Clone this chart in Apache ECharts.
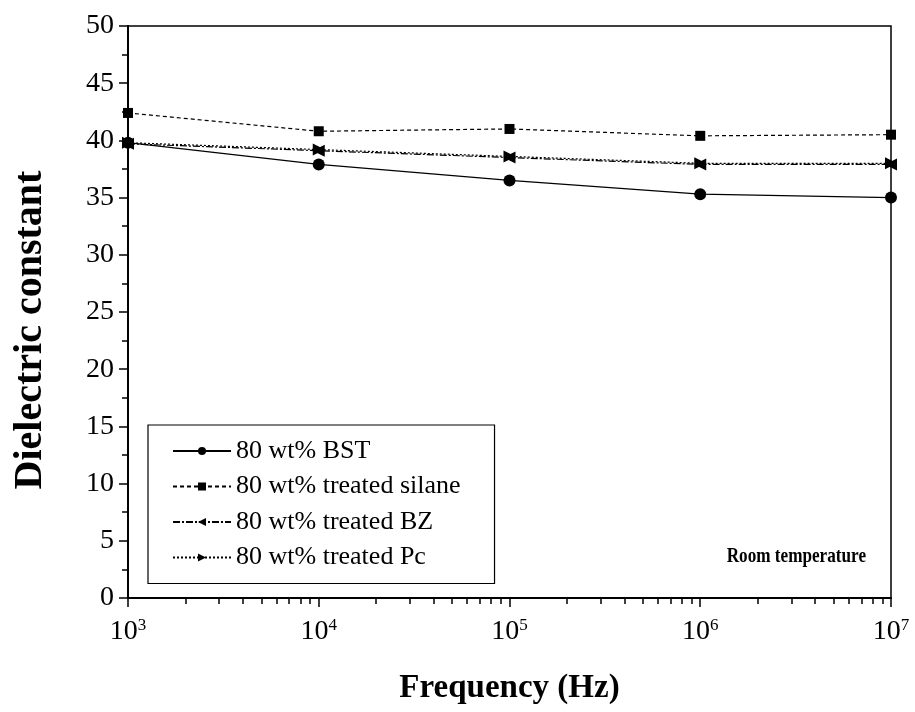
<!DOCTYPE html>
<html>
<head>
<meta charset="utf-8">
<script src="https://cdn.jsdelivr.net/npm/echarts@6/dist/echarts.min.js"></script>
<style>
html,body{margin:0;padding:0;background:#fff;}
#chart{width:915px;height:712px;}
</style>
</head>
<body>
<div id="chart"></div>
<script>
// ---- data ----
var frequencies = [1e3, 1e4, 1e5, 1e6, 1e7];
var seriesNames = ['80 wt% BST', '80 wt% treated silane', '80 wt% treated BZ', '80 wt% treated Pc'];
var bst    = [39.8, 37.9, 36.5, 35.3, 35.0];
var silane = [42.4, 40.8, 41.0, 40.4, 40.5];
var bz     = [39.7, 39.1, 38.5, 37.9, 37.9];
var pc     = [39.8, 39.2, 38.6, 38.0, 38.0];
var yTicks = [0, 5, 10, 15, 20, 25, 30, 35, 40, 45, 50];
var xTickExponents = [3, 4, 5, 6, 7];
var annotation = 'Room temperature';

function pairs(vals) { return frequencies.map(function (f, i) { return [f, vals[i]]; }); }
var minorX = [];
for (var e = 3; e < 7; e++) { for (var m = 2; m <= 9; m++) { minorX.push(m * Math.pow(10, e)); } }

var serif = 'Liberation Serif, Times New Roman, serif';
var chart = echarts.init(document.getElementById('chart'), null, {renderer: 'canvas'});

function mk(name, vals, symbol, rot, dash, size) {
  return {
    name: name, type: 'line', data: pairs(vals),
    symbol: symbol, symbolSize: size, symbolRotate: rot,
    lineStyle: {color: '#000', width: 1.2, type: dash},
    itemStyle: {color: '#000'},
    clip: false, animation: false, z: 3
  };
}

var option = {
  backgroundColor: '#fff',
  animation: false,
  grid: {left: 128, right: 24, top: 26, bottom: 114, show: true, borderColor: '#000', borderWidth: 1.5, backgroundColor: 'transparent'},
  xAxis: [{
    type: 'log', logBase: 10, min: 1e3, max: 1e7,
    name: 'Frequency (Hz)', nameLocation: 'middle', nameGap: 74,
    nameTextStyle: {fontFamily: serif, fontWeight: 'bold', fontSize: 33, color: '#000'},
    axisLine: {show: true, onZero: false, lineStyle: {color: '#000', width: 2}},
    axisTick: {show: true, inside: false, length: 9, lineStyle: {color: '#000', width: 1.5}},
    splitLine: {show: false},
    axisLabel: {
      margin: 19, color: '#000', fontFamily: serif, fontSize: 28,
      formatter: function (v) { var n = Math.round(Math.log10(v)); return '{b|10}{s|' + n + '}'; },
      rich: {b: {fontFamily: serif, fontSize: 28, color: '#000'}, s: {fontFamily: serif, fontSize: 17, color: '#000', verticalAlign: 'top', padding: [0, 0, 12, 0]}}
    }
  }, {
    type: 'log', logBase: 10, min: 1e3, max: 1e7, position: 'bottom',
    axisLine: {show: false},
    axisLabel: {show: false},
    splitLine: {show: false},
    axisTick: {show: true, length: 6, customValues: minorX, lineStyle: {color: '#000', width: 1.5}}
  }],
  yAxis: {
    type: 'value', min: 0, max: 50, interval: 5,
    name: 'Dielectric constant', nameLocation: 'middle', nameGap: 77,
    nameTextStyle: {fontFamily: serif, fontWeight: 'bold', fontSize: 40, color: '#000', padding: [0, 36, 0, 0]},
    axisLine: {show: true, lineStyle: {color: '#000', width: 2}},
    axisTick: {show: true, length: 9, lineStyle: {color: '#000', width: 1.5}},
    minorTick: {show: true, splitNumber: 2, length: 6, lineStyle: {color: '#000', width: 1.5}},
    splitLine: {show: false},
    axisLabel: {margin: 14, color: '#000', fontFamily: serif, fontSize: 28,
      formatter: function (v) { return yTicks.indexOf(v) >= 0 ? String(v) : ''; }}
  },
  legend: {
    orient: 'vertical', left: 148, top: 425,
    padding: [13, 34, 13, 24], itemGap: 9.5,
    borderColor: '#000', borderWidth: 1.2, backgroundColor: '#fff',
    itemWidth: 58, itemHeight: 10,
    textStyle: {fontFamily: serif, fontSize: 26, color: '#000'},
    data: seriesNames
  },
  graphic: [{
    type: 'text', x: 866, y: 556, scaleX: 0.78, scaleY: 1,
    style: {x: 0, y: 0, text: annotation, font: 'bold 22px ' + serif, fill: '#000', align: 'right', verticalAlign: 'middle'}
  }],
  series: [
    mk(seriesNames[0], bst, 'circle', 0, 'solid', 12),
    mk(seriesNames[1], silane, 'rect', 0, [4, 3], 10),
    mk(seriesNames[2], bz, 'triangle', 90, [7, 2, 2, 2], 12),
    mk(seriesNames[3], pc, 'triangle', -90, [2, 2], 12)
  ]
};
chart.setOption(option);
</script>
</body>
</html>
